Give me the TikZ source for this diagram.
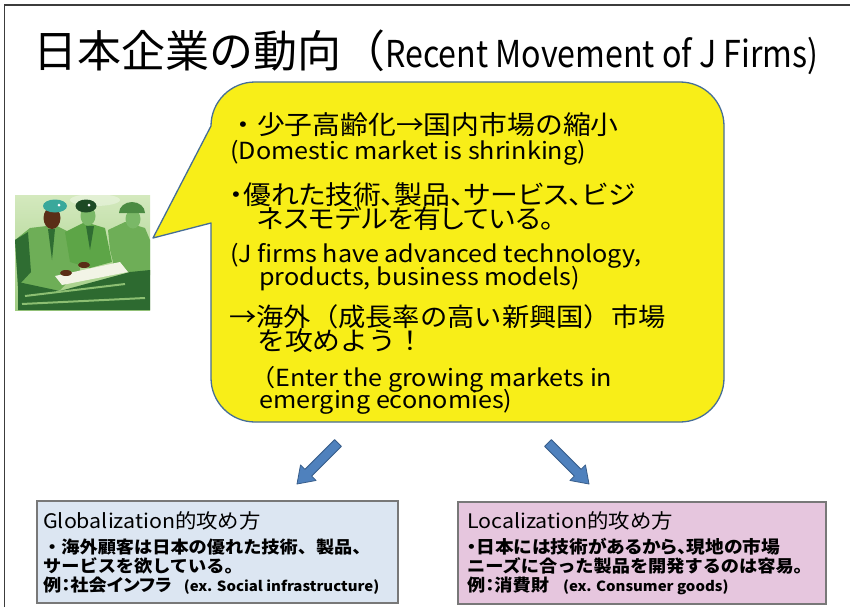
\documentclass[tikz,border=0pt]{standalone}
\usepackage{fontspec}
\setmainfont[FakeStretch=1.07]{Noto Sans CJK JP}
\newfontfamily\proptext[FakeStretch=1.07, RawFeature=+palt]{Noto Sans CJK JP}
\newfontfamily\titlejp{Noto Sans CJK JP}
\newfontfamily\titlelat[FakeStretch=0.87]{Noto Sans CJK JP}
\usetikzlibrary{calc}
\definecolor{bubblefill}{RGB}{248,238,24}
\definecolor{bubbleline}{RGB}{70,110,150}
\definecolor{globfill}{RGB}{220,230,242}
\definecolor{locfill}{RGB}{230,198,222}
\definecolor{boxline}{RGB}{120,120,120}
\definecolor{arrowfill}{RGB}{79,129,189}
\definecolor{arrowline}{RGB}{56,93,138}
\definecolor{framecol}{RGB}{60,60,60}
\definecolor{bgtop}{RGB}{212,233,190}
\definecolor{bgbot}{RGB}{160,205,130}
\definecolor{uniformA}{RGB}{110,174,87}
\definecolor{uniformB}{RGB}{93,165,71}
\definecolor{shadowG}{RGB}{47,109,50}
\definecolor{tableG}{RGB}{45,106,48}
\definecolor{stripeG}{RGB}{140,191,114}
\definecolor{skinD}{RGB}{90,46,22}
\definecolor{skinG}{RGB}{122,184,103}
\definecolor{beretT}{RGB}{58,168,155}
\definecolor{beretD}{RGB}{29,74,37}
\definecolor{helmetG}{RGB}{75,139,66}
\definecolor{mapW}{RGB}{242,244,230}

\newcommand{\cjkbig}{\fontsize{26}{26}\selectfont}
\newcommand{\engmid}{\fontsize{23.5}{23.5}\selectfont}
\newcommand{\boxhead}{\fontsize{20}{20}\selectfont}
\newcommand{\boxbody}{\fontsize{17}{17}\selectfont\bfseries}
\newcommand{\boxlat}{\fontsize{14}{14}\selectfont\bfseries}

% block arrow from #1 to the tip #2
\newcommand{\blockarrow}[2]{%
  \coordinate (#1h) at ($(#2)!16pt!(#1)$);
  \filldraw[arrowstyle]
    ($(#1)!4.8pt!90:(#2)$) -- ($(#1h)!4.8pt!90:(#2)$) -- ($(#1h)!11pt!90:(#2)$)
    -- (#2) -- ($(#1h)!11pt!-90:(#2)$) -- ($(#1h)!4.8pt!-90:(#2)$)
    -- ($(#1)!4.8pt!-90:(#2)$) -- cycle;}

\begin{document}
\begin{tikzpicture}[x=1pt,y=-1pt,
  txt/.style={anchor=base west, inner sep=0pt, text=black},
  bubble/.style={fill=bubblefill, draw=bubbleline, line width=1.3pt, line join=round},
  arrowstyle/.style={fill=arrowfill, draw=arrowline, line width=0.8pt, line join=round},
  sidebox/.style={draw=boxline, line width=1.6pt, anchor=north west, inner sep=0pt}]
\useasboundingbox (0,0) rectangle (850,607);
\fill[white] (0,0) rectangle (850,607);
\draw[framecol, line width=1.2pt] (4.5,607) -- (4.5,5) -- (850,5);

% title
\node[txt] (title) at (33,68) {\titlejp\fontsize{44}{44}\selectfont 日本企業の動向（\titlelat\fontsize{37}{37}\selectfont Recent Movement of J Firms)};

% clip-art: officers around a map
\shade[top color=bgtop, bottom color=bgbot] (15,195) rectangle (150,310);
\fill[white, opacity=0.35] (95,200) ellipse[x radius=25pt, y radius=6pt];
\fill[uniformA] (15,240) -- (30,228) -- (55,225) -- (75,235) -- (80,270) -- (60,290) -- (18,290) -- cycle;
\fill[shadowG] (15,240) -- (28,232) -- (31,272) -- (18,286) -- cycle;
\fill[shadowG] (48,229) -- (52,260) -- (55,229) -- cycle;
\fill[skinD] (52,218) ellipse[x radius=8.5pt, y radius=11pt];
\fill[beretT] (55,206) ellipse[x radius=12pt, y radius=6.5pt];
\fill[white] (59,205) circle[radius=1.5pt];
\fill[uniformB] (65,232) -- (85,222) -- (105,228) -- (112,262) -- (90,268) -- (70,262) -- cycle;
\fill[shadowG] (86,226) -- (90,250) -- (94,226) -- cycle;
\fill[skinG] (88,216) ellipse[x radius=7.5pt, y radius=9.5pt];
\fill[beretD] (86,206) ellipse[x radius=10.5pt, y radius=6.5pt];
\fill[white] (89,205) circle[radius=1.5pt];
\fill[uniformA] (108,230) -- (125,222) -- (145,228) -- (150,240) -- (150,275) -- (115,270) -- (110,250) -- cycle;
\fill[skinG] (133,219) ellipse[x radius=7.5pt, y radius=9.5pt];
\fill[helmetG] (119,213) arc[start angle=180, end angle=0, x radius=13pt, y radius=11pt] -- cycle;
\fill[tableG] (18,282) -- (60,291) -- (130,272) -- (150,270) -- (150,310) -- (18,310) -- cycle;
\fill[mapW] (55,276) -- (120,262) -- (128,272) -- (62,285) -- cycle;
\fill[skinD] (66,273) ellipse[x radius=6pt, y radius=3pt];
\fill[skinD] (84,265) ellipse[x radius=6pt, y radius=3pt];
\draw[stripeG, line width=2pt] (25,296) -- (125,284);
\draw[stripeG, line width=2pt] (22,304) -- (145,298);

% speech bubble
\draw[bubble] (211,223) -- (153,238) -- (211,126)
  arc[start angle=180, end angle=90, radius=44pt] -- (680,82)
  arc[start angle=90, end angle=0, radius=44pt] -- (724,378)
  arc[start angle=0, end angle=-90, radius=44pt] -- (255,422)
  arc[start angle=-90, end angle=-180, radius=44pt] -- cycle;

\node[txt] (b1) at (229,134) {\cjkbig ・少子高齢化→国内市場の縮小};
\node[txt] (b2) at (230,159) {\engmid (Domestic market is shrinking)};
\node[txt] (b3) at (229,204) {\proptext\cjkbig ・優れた技術、製品、サービス、ビジ};
\node[txt] (b4) at (257,228) {\proptext\cjkbig ネスモデルを有している。};
\node[txt] (b5) at (230,262) {\engmid (J firms have advanced technology,};
\node[txt] (b6) at (259,285) {\engmid products, business models)};
\node[txt] (b7) at (229,326) {\fontsize{25.5}{25.5}\selectfont →海外（成長率の高い新興国）市場};
\node[txt] (b8) at (257,350) {\cjkbig を攻めよう！};
\node[txt] (b9) at (250,386) {\engmid （Enter the growing markets in};
\node[txt] (b10) at (259,408) {\engmid emerging economies)};

% block arrows
\coordinate (la) at (338,443);
\coordinate (lb) at (297,484);
\coordinate (ra) at (548,443);
\coordinate (rb) at (589,484);
\blockarrow{la}{lb}
\blockarrow{ra}{rb}

% strategy boxes
\node[sidebox, fill=globfill, minimum width=361pt, minimum height=102pt] (gbox) at (36,500) {};
\node[sidebox, fill=locfill, minimum width=368pt, minimum height=102pt] (lbox) at (457,501) {};

\node[txt] (g1) at (43,528) {\boxhead Globalization的攻め方};
\node[txt] (g2) at (43,553) {\boxbody ・海外顧客は日本の優れた技術、製品、};
\node[txt] (g3) at (43,572) {\boxbody サービスを欲している。};
\node[txt] (g4) at (43,591) {\boxbody\proptext 例：社会インフラ\hspace{12pt}\normalfont\boxlat (ex. Social infrastructure)};

\node[txt] (l1) at (467,528) {\boxhead Localization的攻め方};
\node[txt] (l2) at (467,553) {\fontsize{17.5}{17.5}\selectfont\bfseries\proptext ・日本には技術があるから、現地の市場};
\node[txt] (l3) at (467,572) {\boxbody ニーズに合った製品を開発するのは容易。};
\node[txt] (l4) at (467,591) {\boxbody\proptext 例：消費財\hspace{14pt}\normalfont\boxlat (ex. Consumer goods)};
\end{tikzpicture}
\end{document}
